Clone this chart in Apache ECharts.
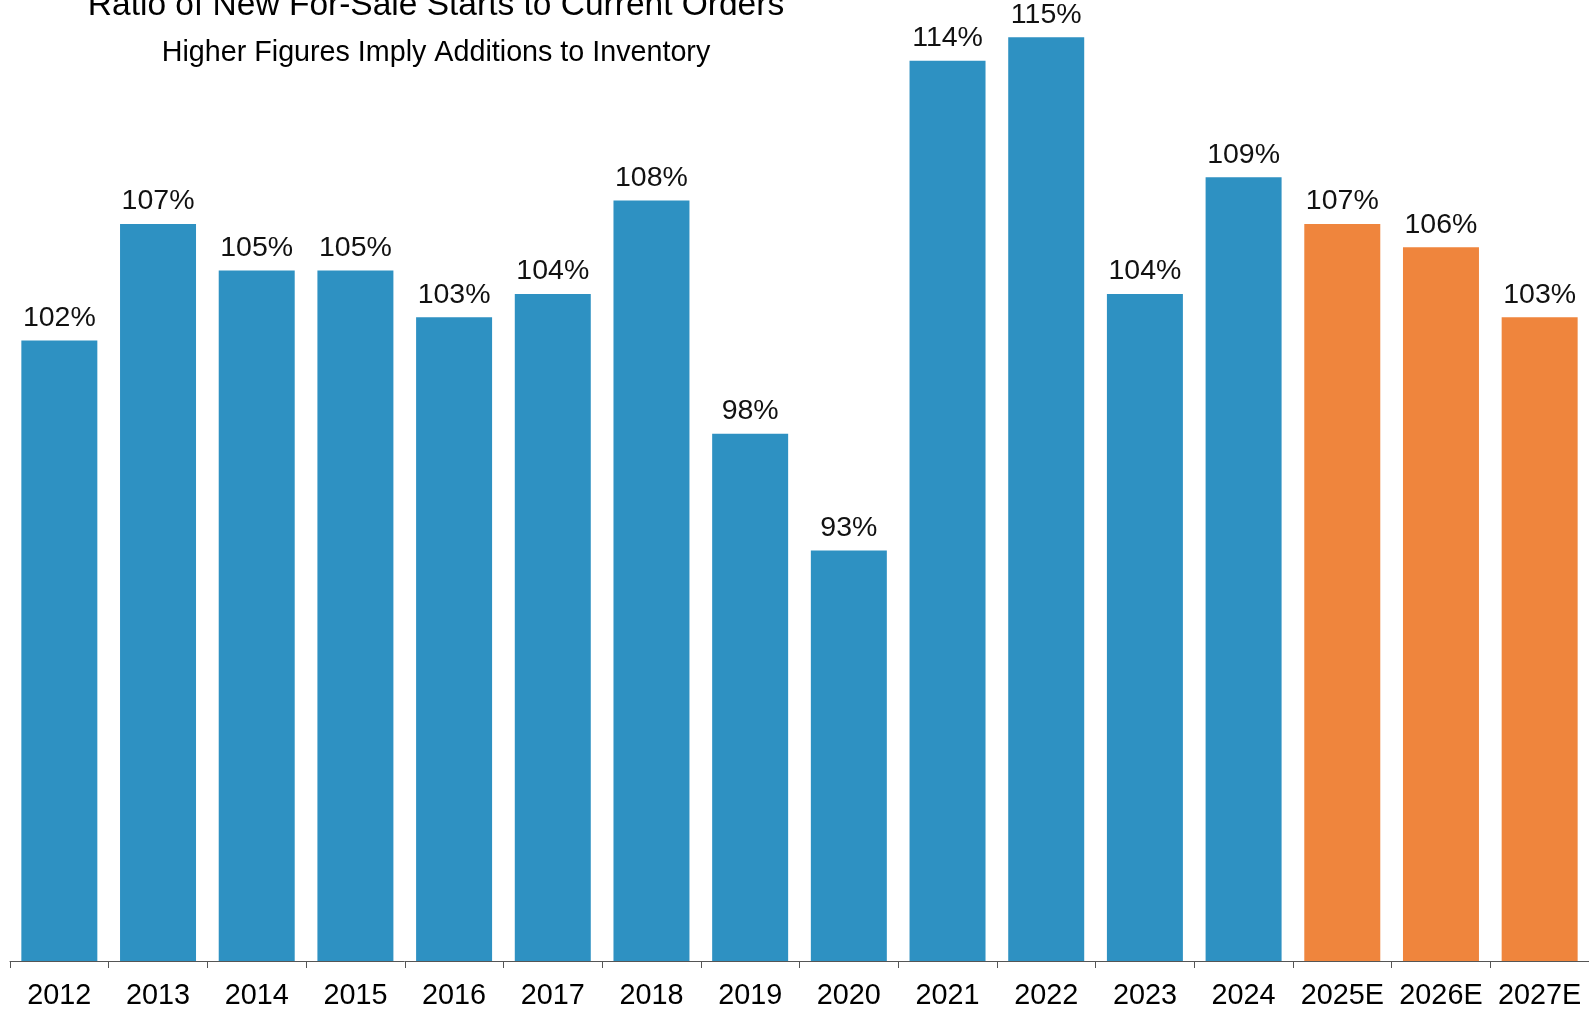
<!DOCTYPE html>
<html>
<head>
<meta charset="utf-8">
<title>Ratio of New For-Sale Starts to Current Orders</title>
<script src="https://cdn.jsdelivr.net/npm/echarts@6/dist/echarts.min.js"></script>
<style>
  html, body { margin: 0; padding: 0; background: #ffffff; }
  #chart { width: 1589px; height: 1011px; }
</style>
</head>
<body>
<div id="chart"></div>
<script>
// Yearly ratio of new for-sale starts to current orders (%), E = estimate
const years = ['2012', '2013', '2014', '2015', '2016', '2017', '2018', '2019',
               '2020', '2021', '2022', '2023', '2024', '2025E', '2026E', '2027E'];
const ratios = [102, 107, 105, 105, 103, 104, 108, 98, 93, 114, 115, 104, 109, 107, 106, 103];

const titleText = 'Ratio of New For-Sale Starts to Current Orders';
const subtitleText = 'Higher Figures Imply Additions to Inventory';

const ACTUAL_COLOR = '#2e91c2';
const ESTIMATE_COLOR = '#ef853d';
const FONT = '"Liberation Sans", Arial, Helvetica, sans-serif';

const chart = echarts.init(document.getElementById('chart'), null, { renderer: 'canvas' });

const barData = ratios.map((v, i) => ({
  value: v,
  itemStyle: { color: years[i].endsWith('E') ? ESTIMATE_COLOR : ACTUAL_COLOR }
}));

chart.setOption({
  animation: false,
  backgroundColor: '#ffffff',
  graphic: [
    {
      type: 'text',
      x: 436,
      y: 6,
      style: {
        text: titleText,
        font: '33.5px ' + FONT,
        fill: '#000000',
        textAlign: 'center',
        textVerticalAlign: 'middle',
        align: 'center',
        verticalAlign: 'middle'
      }
    },
    {
      type: 'text',
      x: 436,
      y: 53,
      style: {
        text: subtitleText,
        font: '28.7px ' + FONT,
        fill: '#000000',
        textAlign: 'center',
        textVerticalAlign: 'middle',
        align: 'center',
        verticalAlign: 'middle'
      }
    }
  ],
  grid: {
    left: 10,
    right: 0,
    top: 0,
    bottom: 44,
    containLabel: false
  },
  xAxis: {
    type: 'category',
    data: years,
    boundaryGap: true,
    axisLine: { show: true, lineStyle: { color: '#555555', width: 1 } },
    axisTick: { show: true, length: 7, lineStyle: { color: '#555555', width: 1 } },
    axisLabel: {
      interval: 0,
      margin: 21,
      color: '#000000',
      fontSize: 28.8,
      fontFamily: FONT
    },
    splitLine: { show: false }
  },
  yAxis: {
    type: 'value',
    min: 75.4,
    max: 116.6,
    show: false,
    splitLine: { show: false }
  },
  series: [
    {
      type: 'bar',
      data: barData,
      barCategoryGap: '23%',
      label: {
        show: true,
        position: 'top',
        distance: 8,
        formatter: '{c}%',
        color: '#111111',
        fontSize: 28.5,
        fontFamily: FONT
      }
    }
  ]
});
</script>
</body>
</html>
